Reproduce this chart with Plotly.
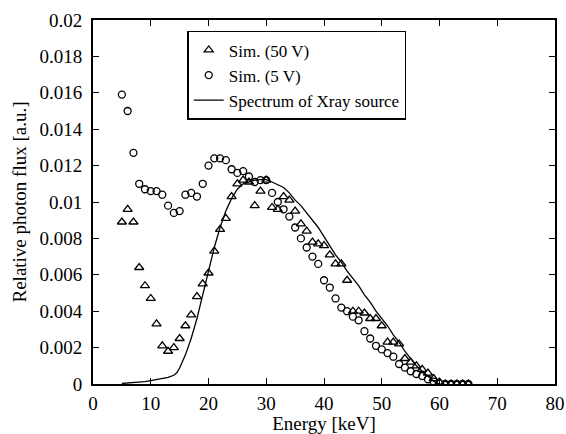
import plotly.graph_objects as go

# Energy grid (keV) for simulated points
energy_sim = list(range(5, 66))

sim_50v = [0.0089, 0.0096, 0.0089, 0.0064, 0.0054, 0.0047, 0.0033, 0.0021, 0.0018, 0.0020,
           0.0025, 0.0032, 0.0038, 0.0048, 0.0055, 0.0061, 0.0073, 0.0085, 0.0091, 0.0103,
           0.0110, 0.0112, 0.0111, 0.0098, 0.0106, 0.0112, 0.0097, 0.0096, 0.0103, 0.0101,
           0.0095, 0.0088, 0.0084, 0.0078, 0.0077, 0.0076, 0.0071, 0.0066, 0.0066, 0.0057,
           0.0040, 0.0040, 0.0039, 0.0036, 0.0036, 0.0032, 0.0023, 0.0023, 0.0022, 0.0014,
           0.0012, 0.0010, 0.0008, 0.0006, 0.0003, 0.0001, 0.0, 0.0, 0.0, 0.0, 0.0]

sim_5v = [0.0159, 0.0150, 0.0127, 0.0110, 0.0107, 0.0106, 0.0106, 0.0104, 0.0098, 0.0094,
          0.0095, 0.0104, 0.0105, 0.0103, 0.0110, 0.0120, 0.0124, 0.0124, 0.0123, 0.0118,
          0.0116, 0.0117, 0.0114, 0.0111, 0.0112, 0.0112, 0.0105, 0.0100, 0.0096, 0.0092,
          0.0086, 0.0080, 0.0075, 0.0070, 0.0066, 0.0057, 0.0053, 0.0047, 0.0042, 0.0040,
          0.0037, 0.0035, 0.0029, 0.0025, 0.0021, 0.0019, 0.0017, 0.0015, 0.0011, 0.0009,
          0.0007, 0.00055, 0.00044, 0.00026, 0.00013, 0.00003, 0.0, 0.0, 0.0, 0.0, 0.0]

# X-ray source spectrum
energy_src = [5, 6, 7, 8, 9, 10, 11, 12, 13, 14, 14.5, 15, 15.5, 16, 17, 18, 19, 20, 21, 22,
              23, 24, 25, 26, 27, 28, 29, 30, 31, 32, 33, 34, 35, 36, 37, 38, 39, 40, 41,
              42, 43, 44, 45, 46, 47, 48, 49, 50, 51, 52, 53, 54, 55, 56, 57, 58, 59, 60]
spectrum = [0.00003, 0.00005, 0.00008, 0.0001, 0.00013, 0.00018, 0.00024, 0.0003, 0.00037,
            0.00048, 0.00062, 0.00088, 0.0012, 0.0016, 0.0025, 0.0036, 0.0049, 0.0062,
            0.0075, 0.0086, 0.0095, 0.0102, 0.0107, 0.0110, 0.0111, 0.0112, 0.01123,
            0.01123, 0.0111, 0.01095, 0.0108, 0.0105, 0.0101, 0.0098, 0.0094, 0.0090,
            0.0086, 0.0081, 0.0076, 0.0071, 0.0067, 0.0062, 0.0058, 0.0054, 0.0049, 0.0045,
            0.0040, 0.0036, 0.0032, 0.0027, 0.0023, 0.0018, 0.0014, 0.0010, 0.0007, 0.0004,
            0.00015, 0.0]

x_ticks = [0, 10, 20, 30, 40, 50, 60, 70, 80]
y_ticks = [0, 0.002, 0.004, 0.006, 0.008, 0.01, 0.012, 0.014, 0.016, 0.018, 0.02]
y_tick_labels = ["0", "0.002", "0.004", "0.006", "0.008", "0.01", "0.012", "0.014",
                 "0.016", "0.018", "0.02"]

font_family = "Liberation Serif"

fig = go.Figure()
fig.add_trace(go.Scatter(
    x=energy_sim, y=sim_50v, mode="markers", name="Sim. (50 V)",
    marker=dict(symbol="triangle-up-open", size=8, color="black", line=dict(width=1.3)),
))
fig.add_trace(go.Scatter(
    x=energy_sim, y=sim_5v, mode="markers", name="Sim. (5 V)",
    marker=dict(symbol="circle-open", size=7, color="black", line=dict(width=1.3)),
))
fig.add_trace(go.Scatter(
    x=energy_src, y=spectrum, mode="lines", name="Spectrum of Xray source",
    line=dict(color="black", width=1.3),
))

axis_common = dict(
    showline=True, linecolor="black", linewidth=2, mirror="ticks",
    ticks="inside", ticklen=6, tickwidth=1, tickcolor="black",
    showgrid=False, zeroline=False, automargin=False,
    tickfont=dict(family=font_family, size=19, color="black"),
)

fig.update_xaxes(range=[0, 80], tickvals=x_ticks, ticktext=[str(v) for v in x_ticks],
                 ticklabelstandoff=1,
                 title=dict(text="Energy [keV]", font=dict(family=font_family, size=19, color="black"),
                            standoff=3),
                 **axis_common)
fig.update_yaxes(range=[0, 0.02], tickvals=y_ticks, ticktext=y_tick_labels,
                 ticklabelstandoff=5,
                 title=dict(text="Relative photon flux [a.u.]",
                            font=dict(family=font_family, size=19, color="black"), standoff=8),
                 **axis_common)

fig.update_layout(
    width=566, height=434,
    margin=dict(l=93, r=11, t=20, b=50),
    paper_bgcolor="white", plot_bgcolor="white",
    font=dict(family=font_family, size=17, color="black"),
    showlegend=True,
    legend=dict(x=0.204, y=0.97, xanchor="left", yanchor="top",
                bordercolor="black", borderwidth=1.5, bgcolor="white",
                font=dict(family=font_family, size=17, color="black"),
                tracegroupgap=0, itemsizing="trace"),
)

fig.write_html("out.html")
